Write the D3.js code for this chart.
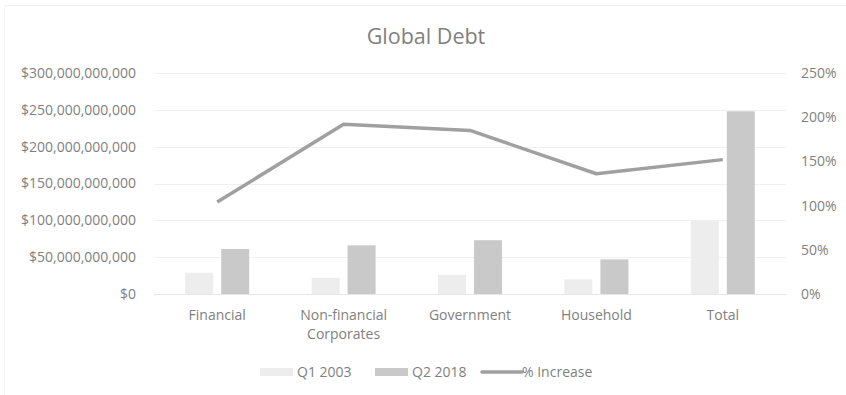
<!DOCTYPE html>
<html>
<head>
<meta charset="utf-8">
<script src="https://cdn.jsdelivr.net/npm/d3@7"></script>
<style>
  body { margin: 0; background: #fff; }
  text { font-family: "Open Sans", sans-serif; fill: #7f7f7f; }
</style>
</head>
<body>
<div class="chart"></div>
<script>
const w = 846;
const h = 395;

// data
const categories = ["Financial", "Non-financial Corporates", "Government", "Household", "Total"];
const q1_2003 = [29e9, 22e9, 26e9, 20e9, 99e9];
const q2_2018 = [61e9, 66e9, 73e9, 47e9, 248e9];
const pctIncrease = [1.04, 1.92, 1.85, 1.36, 1.52];
const leftTicks = [0, 50e9, 100e9, 150e9, 200e9, 250e9, 300e9];
const rightTicks = [0, 0.5, 1, 1.5, 2, 2.5];

const margin = {left: 154, right: 60, top: 73, bottom: 101};
const fs = "14px";

var svg = d3.select(".chart").append("svg")
    .attr("width", w)
    .attr("height", h);

// faint chart border
svg.append("path")
   .attr("d", "M4.5," + h + "V5.5H" + w)
   .attr("fill", "none")
   .attr("stroke", "#f2f2f2");

var xScale = d3.scaleBand().domain(categories).range([margin.left, w - margin.right]);
var yScale = d3.scaleLinear().domain([0, 300e9]).range([h - margin.bottom, margin.top]);
var yRight = d3.scaleLinear().domain([0, 2.5]).range([h - margin.bottom, margin.top]);

svg.append("text")
   .attr("x", 426)
   .attr("y", 44)
   .attr("text-anchor", "middle")
   .style("font-size", "21.5px")
   .text("Global Debt");

// gridlines
svg.selectAll(".grid")
   .data(leftTicks)
   .enter().append("line")
   .attr("x1", margin.left)
   .attr("x2", w - margin.right)
   .attr("y1", d => Math.round(yScale(d)) + 0.5)
   .attr("y2", d => Math.round(yScale(d)) + 0.5)
   .attr("stroke", (d) => d === 0 ? "#e6e6e6" : "#f0f0f0");

var fmt = d3.format("$,");
var yAxis = d3.axisLeft(yScale).tickValues(leftTicks).tickFormat(fmt).tickSize(0).tickPadding(18);
svg.append("g")
   .attr("transform", "translate(" + margin.left + ",0)")
   .call(yAxis)
   .call(g => g.select(".domain").remove())
   .selectAll("text").style("font-size", fs).attr("fill", "#7f7f7f");

var yAxisR = d3.axisRight(yRight).tickValues(rightTicks).tickFormat(d3.format(".0%")).tickSize(0).tickPadding(15);
svg.append("g")
   .attr("transform", "translate(" + (w - margin.right) + ",0)")
   .call(yAxisR)
   .call(g => g.select(".domain").remove())
   .selectAll("text").style("font-size", fs).attr("fill", "#7f7f7f");

// bars
var barW = 28, gap = 8;
svg.selectAll(".bar1")
   .data(q1_2003)
   .enter().append("rect")
   .attr("x", (d, i) => xScale(categories[i]) + xScale.bandwidth() / 2 - gap / 2 - barW)
   .attr("y", d => yScale(d))
   .attr("width", barW)
   .attr("height", d => yScale(0) - yScale(d))
   .attr("fill", "#ededed");

svg.selectAll(".bar2")
   .data(q2_2018)
   .enter().append("rect")
   .attr("x", (d, i) => xScale(categories[i]) + xScale.bandwidth() / 2 + gap / 2)
   .attr("y", d => yScale(d))
   .attr("width", barW)
   .attr("height", d => yScale(0) - yScale(d))
   .attr("fill", "#c9c9c9");

// line
var line = d3.line()
   .x((d, i) => xScale(categories[i]) + xScale.bandwidth() / 2)
   .y(d => yRight(d));
svg.append("path")
   .datum(pctIncrease)
   .attr("d", line)
   .attr("fill", "none")
   .attr("stroke", "#a0a0a0")
   .attr("stroke-width", 3.5)
   .attr("stroke-linejoin", "round");

// category labels
var catLabels = svg.selectAll(".cat")
   .data(categories)
   .enter().append("text")
   .attr("text-anchor", "middle")
   .attr("x", d => xScale(d) + xScale.bandwidth() / 2)
   .attr("y", 320)
   .style("font-size", fs);
catLabels.each(function(d) {
  var t = d3.select(this);
  var parts = d === "Non-financial Corporates" ? ["Non-financial", "Corporates"] : [d];
  parts.forEach((p, i) => {
    t.append("tspan").attr("x", xScale(d) + xScale.bandwidth() / 2).attr("dy", i === 0 ? 0 : 19).text(p);
  });
});

// legend
var legend = svg.append("g").attr("transform", "translate(0,372)");
legend.append("rect").attr("x", 260).attr("y", -4).attr("width", 33).attr("height", 8).attr("fill", "#ededed");
legend.append("text").attr("x", 297).attr("y", 5).style("font-size", fs).text("Q1 2003");
legend.append("rect").attr("x", 375).attr("y", -4).attr("width", 33).attr("height", 8).attr("fill", "#c9c9c9");
legend.append("text").attr("x", 412).attr("y", 5).style("font-size", fs).text("Q2 2018");
legend.append("line").attr("x1", 482).attr("x2", 522).attr("y1", 0).attr("y2", 0)
      .attr("stroke", "#a0a0a0").attr("stroke-width", 3.5).attr("stroke-linecap", "round");
legend.append("text").attr("x", 522).attr("y", 5).style("font-size", fs).text("% Increase");
</script>
</body>
</html>
